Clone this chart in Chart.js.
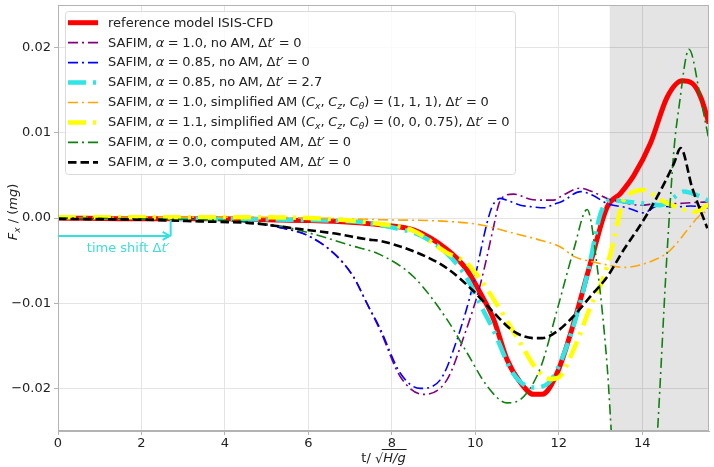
<!DOCTYPE html>
<html>
<head>
<meta charset="utf-8">
<script src="https://cdn.jsdelivr.net/npm/chart.js"></script>
<style>
  html, body { margin: 0; padding: 0; background: #fff; }
</style>
</head>
<body>
<canvas id="forceChart" width="714" height="467"></canvas>
<script>
// axis ticks
const xTicks = [0, 2, 4, 6, 8, 10, 12, 14];
const yTicks = [-0.02, -0.01, 0, 0.01, 0.02];
const shadeStart = 13.22;   // grey band, t
const timeShift = 2.7;      // Δt' used for the cyan run

const seriesLabels = [
    'reference model ISIS-CFD',
    'SAFIM, $α$ = 1.0, no AM, Δ$t′$ = 0',
    'SAFIM, $α$ = 0.85, no AM, Δ$t′$ = 0',
    'SAFIM, $α$ = 0.85, no AM, Δ$t′$ = 2.7',
    'SAFIM, $α$ = 1.0, simplified AM ($C_x$, $C_z$, $C_θ$) = (1, 1, 1), Δ$t′$ = 0',
    'SAFIM, $α$ = 1.1, simplified AM ($C_x$, $C_z$, $C_θ$) = (0, 0, 0.75), Δ$t′$ = 0',
    'SAFIM, $α$ = 0.0, computed AM, Δ$t′$ = 0',
    'SAFIM, $α$ = 3.0, computed AM, Δ$t′$ = 0'
];

// values: t / sqrt(H/g) and Fx / (mg)
const refT = [0, 2, 4, 5, 6, 7, 7.72, 8.52, 9.32, 9.8, 10.12, 10.44, 10.76, 11.08, 11.4, 11.6, 11.96, 12.36, 12.76, 13.16, 13.48, 13.8, 14.2, 14.6, 14.96, 15.2, 15.4, 15.6];
const refF = [0, -0.0001, -0.0001, -0.0002, -0.0003, -0.0005, -0.0008, -0.0014, -0.0037, -0.0061, -0.0088, -0.0119, -0.0166, -0.0193, -0.0207, -0.0207, -0.0182, -0.0123, -0.0053, 0.0013, 0.0029, 0.0050, 0.0088, 0.0142, 0.0161, 0.0158, 0.0142, 0.0111];

const purpleT = [0, 2, 3, 4, 4.6, 5.4, 5.96, 6.6, 7.08, 7.4, 7.72, 8.2, 8.76, 9.32, 9.72, 10.12, 10.44, 10.56, 10.7, 10.92, 11.32, 11.56, 11.88, 12.04, 12.52, 12.8, 13.16, 13.56, 13.96, 14.4, 14.76, 15.2, 15.6];
const purpleF = [0, -0.0001, -0.0001, -0.0003, -0.0005, -0.0012, -0.0020, -0.0041, -0.0069, -0.0100, -0.0132, -0.0186, -0.0207, -0.0190, -0.0140, -0.0078, -0.0010, 0.0016, 0.0026, 0.0028, 0.0022, 0.0021, 0.0021, 0.0025, 0.0035, 0.0031, 0.0023, 0.0018, 0.0015, 0.0017, 0.0017, 0.0018, 0.0019];

const blueT = [0, 2, 3, 4, 4.6, 5.4, 5.96, 6.6, 7.08, 7.4, 7.72, 8.2, 8.68, 9.16, 9.56, 9.96, 10.28, 10.4, 10.6, 10.8, 11.08, 11.4, 11.64, 11.88, 12.1, 12.52, 12.8, 13.16, 13.64, 14.04, 14.36, 14.8, 15.16, 15.6];
const blueF = [0, -0.0001, -0.0001, -0.0003, -0.0005, -0.0012, -0.0020, -0.0041, -0.0069, -0.0100, -0.0130, -0.0182, -0.0200, -0.0190, -0.0143, -0.0076, -0.0006, 0.0013, 0.0023, 0.0020, 0.0015, 0.0013, 0.0012, 0.0016, 0.0020, 0.0031, 0.0027, 0.0017, 0.0012, 0.0006, 0.0014, 0.0013, 0.0014, 0.0012];

const cyanT = [2.7, 4, 5.5, 6.5, 7.3, 8.1, 8.66, 9.3, 9.78, 10.1, 10.42, 10.9, 11.38, 11.6, 11.86, 12.3, 12.7, 13.0, 13.24, 13.64, 14.04, 14.44, 14.7, 15.0, 15.3, 15.6];
const cyanF = [-0.0001, -0.0001, -0.0002, -0.0003, -0.0005, -0.0012, -0.0020, -0.0041, -0.0069, -0.0100, -0.0130, -0.0182, -0.0199, -0.0198, -0.0187, -0.0135, -0.0063, 0.0005, 0.0021, 0.0019, 0.0017, 0.0015, 0.0022, 0.0031, 0.0027, 0.0020];

const orangeT = [0, 2, 4, 6, 7.72, 9.32, 10.12, 10.92, 11.56, 12.04, 12.36, 12.76, 13.16, 13.56, 13.96, 14.3, 14.6, 14.84, 15.08, 15.4, 15.6];
const orangeF = [0, 0.0001, 0.0001, 0, -0.0002, -0.0004, -0.0008, -0.0018, -0.0026, -0.0034, -0.0045, -0.0051, -0.0055, -0.0058, -0.0055, -0.0049, -0.0041, -0.0029, -0.0014, 0.0004, 0.0009];

const yellowT = [0, 2, 4, 6, 7, 7.72, 8.52, 9.32, 9.8, 10.12, 10.6, 11.08, 11.48, 11.8, 12.0, 12.36, 12.76, 13.08, 13.32, 13.52, 13.72, 14.04, 14.44, 14.92, 15.24, 15.6];
const yellowF = [0.0001, 0.0001, 0.0001, 0, -0.0003, -0.0007, -0.0015, -0.0041, -0.0053, -0.0072, -0.0108, -0.0147, -0.0178, -0.0189, -0.0187, -0.0154, -0.0104, -0.0069, -0.0026, 0.0017, 0.0029, 0.0033, 0.0021, 0.0011, 0.0007, 0.0016];

const greenT = [0, 2, 4, 4.6, 5.4, 6.2, 7.0, 7.72, 8.52, 9.32, 9.8, 10.28, 10.76, 11.08, 11.56, 11.96, 12.36, 12.68, 12.92, 13.16, 13.3, 13.8, 14.3, 14.6, 14.76, 14.88, 15.12, 15.4, 15.6];
const greenF = [0, -0.0001, -0.0003, -0.0005, -0.0010, -0.0020, -0.0032, -0.0043, -0.0069, -0.0119, -0.0158, -0.0197, -0.0217, -0.0213, -0.0176, -0.0108, -0.0037, 0.0010, -0.0057, -0.0174, -0.0280, -0.0500, -0.0300, -0.0037, 0.0080, 0.0130, 0.0198, 0.0140, 0.0091];

const blackT = [0, 2, 3.4, 4.6, 5.8, 6.6, 7.4, 7.72, 8.52, 9.32, 9.96, 10.44, 10.92, 11.4, 11.6, 11.96, 12.36, 12.76, 13.16, 13.56, 13.96, 14.36, 14.76, 14.92, 15.2, 15.56];
const blackF = [-0.0001, -0.0002, -0.0004, -0.0006, -0.0013, -0.0018, -0.0025, -0.0027, -0.0039, -0.0059, -0.0086, -0.0111, -0.0133, -0.0141, -0.0141, -0.0133, -0.0115, -0.0092, -0.0069, -0.0037, -0.0008, 0.0025, 0.0064, 0.0082, 0.0035, -0.0012];

const FAMILY = '"DejaVu Sans", sans-serif';
const thinDashDot = [10, 4, 2, 4];
const thickDashDot = [18, 7, 3, 7];

// styles, same order as seriesLabels
const styles = [
    { color: '#ff0000', width: 5, dash: [] },
    { color: '#800080', width: 1.6, dash: thinDashDot },
    { color: '#0000ff', width: 1.6, dash: thinDashDot },
    { color: '#2ee6e6', width: 4.5, dash: thickDashDot },
    { color: '#ffa500', width: 1.6, dash: thinDashDot },
    { color: '#ffff00', width: 4.5, dash: thickDashDot },
    { color: '#108010', width: 1.6, dash: thinDashDot },
    { color: '#000000', width: 2.6, dash: [8.5, 4] }
];

const seriesData = [
    [refT, refF], [purpleT, purpleF], [blueT, blueF], [cyanT, cyanF],
    [orangeT, orangeF], [yellowT, yellowF], [greenT, greenF], [blackT, blackF]
];

const datasets = seriesData.map(function (s, i) {
    return {
        label: seriesLabels[i].replace(/\$/g, '').replace(/_/g, ''),
        data: s[0].map(function (t, k) { return { x: t, y: s[1][k] }; }),
        borderColor: styles[i].color,
        borderWidth: styles[i].width,
        borderDash: styles[i].dash,
        order: seriesData.length - i   // later series on top, like the original
    };
});

// text with $math$ parts in italic and _x subscripts
function richRuns(str) {
    const runs = [];
    let math = false;
    for (let i = 0; i < str.length; i++) {
        let ch = str[i], sub = false;
        if (ch === '$') { math = !math; continue; }
        if (math && ch === '_') { sub = true; ch = str[++i]; }
        const last = runs[runs.length - 1];
        if (last && last.math === math && last.sub === sub) last.text += ch;
        else runs.push({ text: ch, math: math, sub: sub });
    }
    return runs;
}

function drawRich(ctx, str, x, y, size, dry) {
    let cx = x;
    richRuns(str).forEach(function (r) {
        const fs = r.sub ? size * 0.7 : size;
        ctx.font = (r.math ? 'italic ' : '') + fs + 'px ' + FAMILY;
        if (!dry) ctx.fillText(r.text, cx, y + (r.sub ? size * 0.28 : 0));
        cx += ctx.measureText(r.text).width;
    });
    return cx - x;
}

const shadePlugin = {
    id: 'shade',
    beforeDatasetsDraw(chart) {
        const { ctx, chartArea, scales } = chart;
        const x0 = scales.x.getPixelForValue(shadeStart);
        ctx.save();
        ctx.fillStyle = 'rgba(0, 0, 0, 0.105)';
        ctx.fillRect(x0, chartArea.top, chartArea.right - x0, chartArea.bottom - chartArea.top);
        ctx.restore();
    }
};

const overlayPlugin = {
    id: 'overlay',
    afterDatasetsDraw(chart) {
        const { ctx, chartArea, scales } = chart;
        ctx.save();

        // frame
        ctx.strokeStyle = '#b3b3b3';
        ctx.lineWidth = 1;
        ctx.strokeRect(chartArea.left + 0.5, chartArea.top + 0.5,
            chartArea.right - chartArea.left - 1, chartArea.bottom - chartArea.top - 1);

        // time shift arrow
        const ax0 = scales.x.getPixelForValue(0);
        const ax1 = scales.x.getPixelForValue(timeShift);
        const ay = scales.y.getPixelForValue(-0.0021);
        const ayTop = scales.y.getPixelForValue(-0.0002);
        ctx.strokeStyle = '#33e0e0';
        ctx.lineWidth = 2;
        ctx.beginPath();
        ctx.moveTo(ax0, ay); ctx.lineTo(ax1 - 1, ay);
        ctx.moveTo(ax1 - 8, ay - 4); ctx.lineTo(ax1 - 1, ay); ctx.lineTo(ax1 - 8, ay + 4);
        ctx.moveTo(ax1, ay); ctx.lineTo(ax1, ayTop);
        ctx.stroke();
        ctx.fillStyle = '#3fdcdc';
        ctx.textBaseline = 'middle';
        drawRich(ctx, 'time shift Δ$t′$', scales.x.getPixelForValue(0.69), scales.y.getPixelForValue(-0.0036), 13);

        // legend
        ctx.beginPath();
        ctx.roundRect(65.5, 11.5, 450, 163, 3);
        ctx.fillStyle = 'rgba(255, 255, 255, 0.8)';
        ctx.fill();
        ctx.strokeStyle = '#dadada';
        ctx.lineWidth = 1;
        ctx.stroke();
        ctx.wordSpacing = '-0.55px';
        seriesLabels.forEach(function (lab, i) {
            const y = 22.7 + i * 19.95;
            ctx.strokeStyle = styles[i].color;
            ctx.lineWidth = styles[i].width;
            ctx.setLineDash(styles[i].dash);
            ctx.lineCap = 'butt';
            ctx.beginPath();
            ctx.moveTo(68, y); ctx.lineTo(98, y);
            ctx.stroke();
            ctx.setLineDash([]);
            ctx.fillStyle = '#222';
            ctx.textBaseline = 'middle';
            drawRich(ctx, lab, 108, y + 0.5, 13);
        });
        ctx.wordSpacing = '0px';

        // x axis title: t/ sqrt(H/g)
        const cxMid = (chartArea.left + chartArea.right) / 2;
        const ty = 462;
        ctx.textBaseline = 'alphabetic';
        ctx.fillStyle = '#222';
        ctx.font = '13px ' + FAMILY;
        const w1 = ctx.measureText('t/ ').width;
        const w2 = ctx.measureText('√').width;
        const w3 = drawRich(ctx, '$H/g$', 0, 0, 13, true);
        const tx = cxMid - (w1 + w2 + w3) / 2;
        ctx.font = '13px ' + FAMILY;
        ctx.fillText('t/ ', tx, ty);
        ctx.fillText('√', tx + w1, ty + 1);
        drawRich(ctx, '$H/g$', tx + w1 + w2, ty, 13);
        ctx.lineWidth = 1;
        ctx.strokeStyle = '#222';
        ctx.beginPath();
        ctx.moveTo(tx + w1 + w2 - 1.5, ty - 12.5);
        ctx.lineTo(tx + w1 + w2 + w3 + 1, ty - 12.5);
        ctx.stroke();

        // y axis title
        ctx.textBaseline = 'middle';
        ctx.translate(14, 212);
        ctx.rotate(-Math.PI / 2);
        const wy = drawRich(ctx, '$F_x$ / ($mg$)', 0, 0, 13, true);
        drawRich(ctx, '$F_x$ / ($mg$)', -wy / 2, 0, 13);

        ctx.restore();
    }
};

const tickFont = { family: FAMILY, size: 13 };

new Chart(document.getElementById('forceChart').getContext('2d'), {
    type: 'line',
    data: { datasets: datasets },
    options: {
        responsive: false,
        animation: false,
        layout: { padding: { top: 5, right: 5, left: 0, bottom: 0 } },
        plugins: { legend: { display: false }, tooltip: { enabled: false } },
        elements: {
            point: { radius: 0 },
            line: { cubicInterpolationMode: 'monotone', borderCapStyle: 'butt', fill: false }
        },
        scales: {
            x: {
                type: 'linear',
                min: 0,
                max: 15.6,
                afterBuildTicks: function (s) { s.ticks = xTicks.map(function (v) { return { value: v }; }); },
                afterFit: function (s) { s.height = 36; s.paddingLeft = 0; s.paddingRight = 0; },
                grid: { color: '#e4e4e4', tickColor: '#b3b3b3', tickLength: 4 },
                border: { color: '#b3b3b3' },
                ticks: { font: tickFont, color: '#222', padding: 1, maxRotation: 0, callback: function (v) { return String(v); } }
            },
            y: {
                min: -0.025,
                max: 0.025,
                afterBuildTicks: function (s) { s.ticks = yTicks.map(function (v) { return { value: v }; }); },
                afterFit: function (s) { s.width = 58; s.paddingTop = 0; s.paddingBottom = 0; },
                grid: { color: '#e4e4e4', tickColor: '#b3b3b3', tickLength: 4 },
                border: { color: '#b3b3b3' },
                ticks: { font: tickFont, color: '#222', padding: 3, callback: function (v) { return v.toFixed(2).replace('-', '−'); } }
            }
        }
    },
    plugins: [shadePlugin, overlayPlugin]
});
</script>
</body>
</html>
